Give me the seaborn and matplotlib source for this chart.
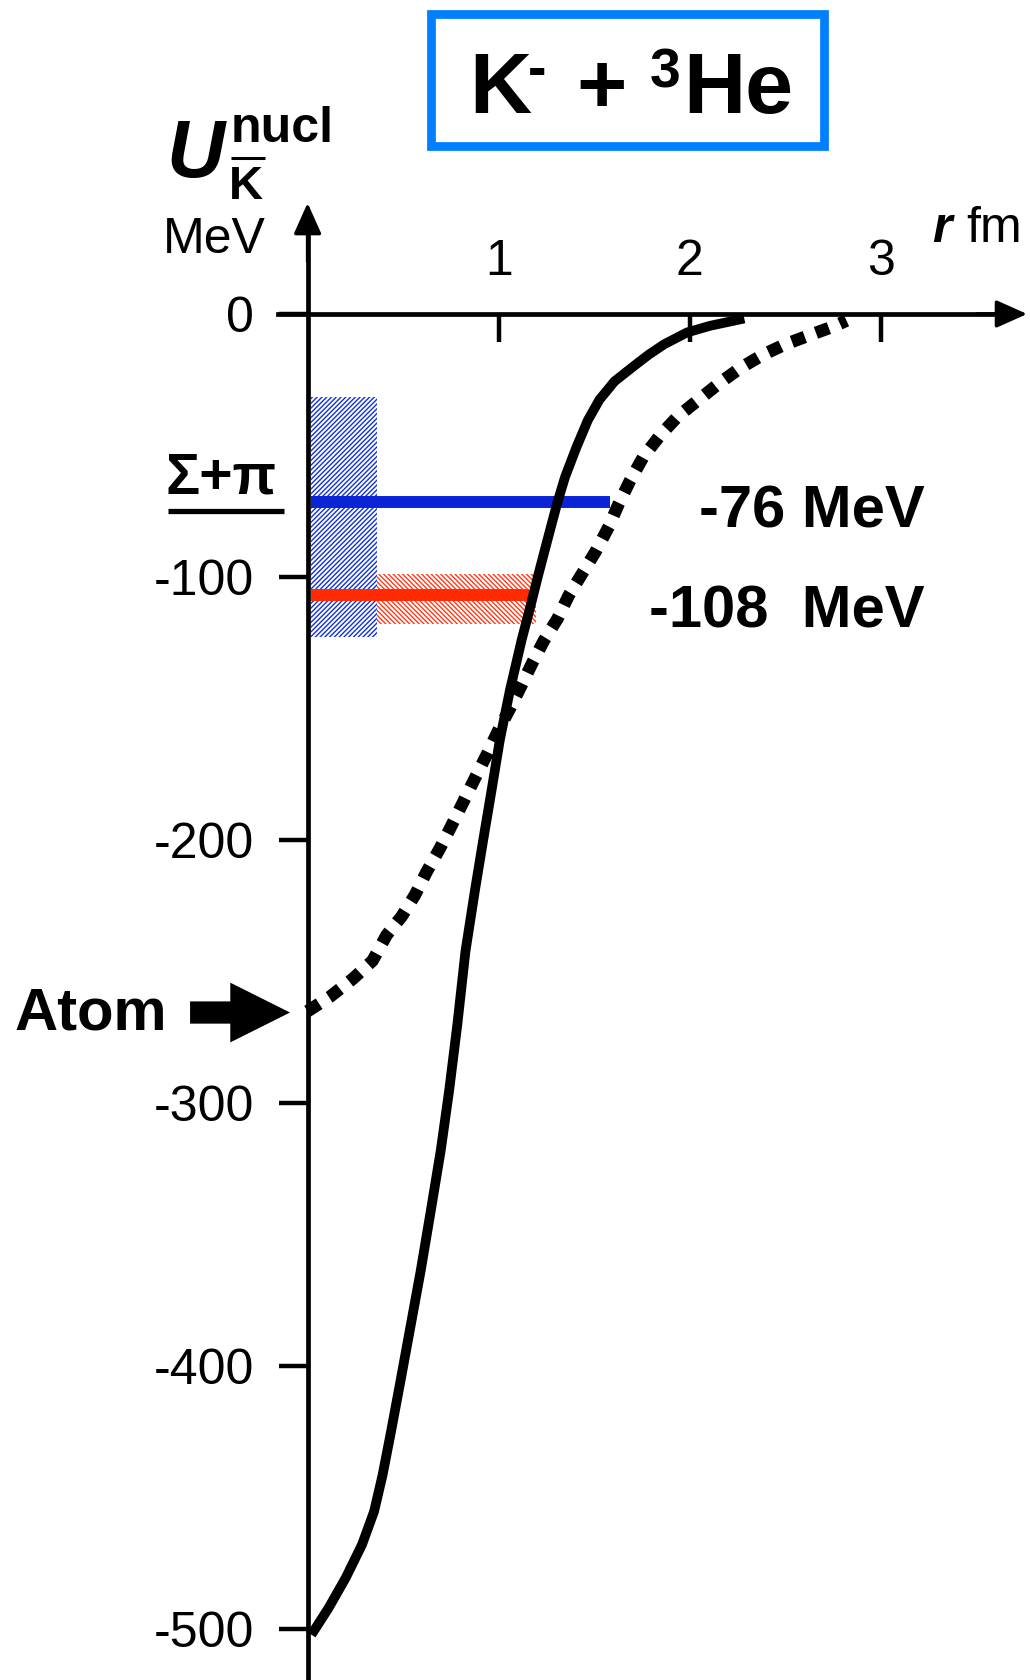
import numpy as np
import pandas as pd
import matplotlib
matplotlib.use("Agg")
import matplotlib.pyplot as plt
import matplotlib.patches as mpatches
from matplotlib.lines import Line2D
import seaborn as sns

# ---------------- data ----------------
# solid potential curve (r in fm, U in MeV)
solid_r = [0.02, 0.11, 0.2, 0.285, 0.348, 0.392, 0.435, 0.488, 0.54, 0.592, 0.645,
           0.697, 0.741, 0.784, 0.826, 0.876, 0.919, 0.963,
           1.006, 1.059, 1.12, 1.167, 1.207, 1.267, 1.307, 1.347, 1.407, 1.467,
           1.527, 1.606, 1.707, 1.786, 1.866, 1.986, 2.105, 2.285]
solid_U = [-502, -491.8, -480.3, -467.7, -455.1, -441.4, -425.4, -404.8, -384.2, -363.6, -340.7,
           -317.8, -295, -269.8, -242.3, -218.9, -199.9, -180.9,
           -161.9, -142.9, -123.9, -110.8, -99.2, -82.6, -71.7, -62, -50.6, -40.3,
           -32.6, -25.6, -19.8, -15.4, -11.5, -7, -4.5, -1.7]

# dotted potential curve
dotted_r = [0.0, 0.117, 0.238, 0.34, 0.414, 0.492, 0.562, 0.623, 0.693, 0.754, 0.815,
            0.876, 0.937, 1.0, 1.059, 1.12, 1.18, 1.236, 1.307, 1.367, 1.437, 1.507,
            1.577, 1.627, 1.687, 1.756, 1.846, 1.936, 2.046, 2.156, 2.265, 2.385,
            2.5, 2.64, 2.76, 2.82]
dotted_U = [-265, -259.5, -252.6, -245.8, -236, -229, -220.8, -212, -203, -194.3, -185.4,
            -176.4, -167.6, -158, -149.9, -141, -132, -124.2, -115.9, -106.9, -98.6, -90.3,
            -80.7, -72.3, -63.4, -54.4, -46, -39, -32.6, -26.2, -20.5, -15.4,
            -11.5, -7.7, -4.5, -2.5]

# bound-state levels
level_names = ["-76 MeV", "-108  MeV"]
level_U = [-71.5, -106.8]
level_r_start = [0.02, 0.02]
level_r_end = [1.585, 1.16]
level_colors = ["#0A24D6", "#FF2A00"]

# width bands (hatched)
band_r_start = [0.02, 0.362]
band_r_end = [0.362, 1.193]
band_U_top = [-31.4, -98.8]
band_U_bottom = [-122.7, -117.8]
band_colors = ["#1232D8", "#FF3A1A"]
band_hatches = ["///////", "\\\\\\\\\\\\\\"]

x_ticks = [1, 2, 3]
x_tick_labels = ["1", "2", "3"]
y_ticks = [0, -100, -200, -300, -400, -500]
y_tick_labels = ["0", "-100", "-200", "-300", "-400", "-500"]

atom_U = -265.5

# ---------------- style ----------------
sns.set_theme(style="white")
plt.rcParams["font.family"] = ["Liberation Sans", "DejaVu Sans"]
plt.rcParams["hatch.linewidth"] = 1.0
plt.rcParams["axes.unicode_minus"] = False
plt.rcParams["text.color"] = "black"
plt.rcParams["xtick.color"] = "black"
plt.rcParams["ytick.color"] = "black"
plt.rcParams["axes.labelcolor"] = "black"

W, H = 1030, 1680
fig = plt.figure(figsize=(W / 100, H / 100), dpi=100)
ax = fig.add_axes([0, 0, 1, 1])
ax.set_facecolor("white")
fig.patch.set_facecolor("white")

ax.set_xlim(-1.6096, 3.7802)
ax.set_ylim(-519.2, 119.35)


def fx(px):
    return px / W


def fy(py):
    return 1 - py / H


# hatched bands
for r0, r1, ut, ub, c, h in zip(band_r_start, band_r_end, band_U_top, band_U_bottom,
                                band_colors, band_hatches):
    ax.bar(r0, ut - ub, width=r1 - r0, bottom=ub, align="edge",
           facecolor="white", edgecolor=c, hatch=h, linewidth=0, zorder=1)

# level lines
for u, r0, r1, c in zip(level_U, level_r_start, level_r_end, level_colors):
    ax.hlines(u, r0, r1, colors=c, linewidth=8.6, zorder=2, capstyle="butt")

# curves
df_solid = pd.DataFrame({"r": solid_r, "U": solid_U})
df_dot = pd.DataFrame({"r": dotted_r, "U": dotted_U})
sns.lineplot(data=df_dot, x="r", y="U", ax=ax, color="black", linewidth=9.0,
             sort=False, linestyle=(0, (1.1, 0.95)), dash_capstyle="butt", zorder=3)
sns.lineplot(data=df_solid, x="r", y="U", ax=ax, color="black", linewidth=7.0,
             sort=False, zorder=4, solid_capstyle="butt", solid_joinstyle="round")

# axes (spines through origin)
for s in ["top", "right"]:
    ax.spines[s].set_visible(False)
ax.spines["left"].set_position(("data", 0))
ax.spines["bottom"].set_position(("data", 0))
ax.spines["left"].set_bounds(-519.2, 38)
ax.spines["bottom"].set_bounds(-0.155, 3.72)
for s in ["left", "bottom"]:
    ax.spines[s].set_linewidth(3.4)
    ax.spines[s].set_color("black")
    ax.spines[s].set_zorder(5)

ax.set_yticks(y_ticks, labels=y_tick_labels)
ax.set_xticks(x_ticks, labels=[""] * len(x_ticks))
ax.tick_params(axis="y", direction="out", length=20.9, width=3.2, pad=17.5,
               labelsize=36, colors="black", left=True)
ax.tick_params(axis="x", direction="out", length=20.0, width=3.2,
               labelbottom=False, bottom=True, colors="black")
ax.set_xlabel("")
ax.set_ylabel("")
ax.grid(False)
for v, lab in zip(x_ticks, x_tick_labels):
    ax.text(v, 14.8, lab, ha="center", va="baseline", fontsize=36, color="black")

# axis arrow heads
ax.annotate("", xy=(3.765, 0), xytext=(3.5, 0),
            arrowprops=dict(arrowstyle="-|>,head_length=1.9,head_width=0.85",
                            mutation_scale=10, lw=2.5, color="black",
                            shrinkA=0, shrinkB=0), zorder=6)
ax.annotate("", xy=(0, 42.2), xytext=(0, 20),
            arrowprops=dict(arrowstyle="-|>,head_length=1.9,head_width=0.85",
                            mutation_scale=10, lw=2.5, color="black",
                            shrinkA=0, shrinkB=0), zorder=6)

# Atom arrow
ax.annotate("", xy=(-0.092, atom_U), xytext=(-0.615, atom_U),
            arrowprops=dict(arrowstyle="simple,head_length=4.3,head_width=4.3,tail_width=1.6",
                            mutation_scale=10, lw=0, color="black",
                            shrinkA=0, shrinkB=0), zorder=6)
fig.text(fx(15), fy(1030), "Atom", fontsize=43, fontweight="bold", va="baseline",
         color="black")

# level labels
fig.text(fx(925), fy(527), level_names[0], fontsize=43, fontweight="bold",
         ha="right", va="baseline", color="black")
fig.text(fx(925), fy(628), level_names[1], fontsize=43, fontweight="bold",
         ha="right", va="baseline", color="black")

# Sigma + pi threshold label
fig.text(fx(166), fy(493), "Σ+π", fontsize=41, fontweight="bold", va="baseline",
         color="black")
fig.add_artist(Line2D([fx(168), fx(284)], [fy(510.6), fy(510.6)], lw=3.8,
                      color="black", solid_capstyle="butt", transform=fig.transFigure))

# title box
fig.add_artist(mpatches.Rectangle((fx(430.5), fy(146)), (824 - 430.5) / W, (146 - 14) / H,
                                  transform=fig.transFigure, fill=False,
                                  edgecolor="#0080FF", linewidth=6.3))
fig.text(fx(469), fy(113), "K", fontsize=62, fontweight="bold", va="baseline", color="black")
fig.text(fx(528), fy(86), "-", fontsize=40, fontweight="bold", va="baseline", color="black")
fig.text(fx(602), fy(113), "+", fontsize=62, fontweight="bold", va="baseline", ha="center",
         color="black")
fig.text(fx(650), fy(87), "3", fontsize=40, fontweight="bold", va="baseline", color="black")
fig.text(fx(683), fy(113), "He", fontsize=62, fontweight="bold", va="baseline", color="black")

# y-axis label
fig.text(fx(166), fy(177), "U", fontsize=58, fontweight="bold", fontstyle="italic",
         va="baseline", color="black")
fig.text(fx(231), fy(142), "nucl", fontsize=36, fontweight="bold", va="baseline",
         color="black")
fig.text(fx(229), fy(199), "K", fontsize=34, fontweight="bold", va="baseline", color="black")
fig.add_artist(Line2D([fx(231), fx(265)], [fy(158), fy(158)], lw=2.2,
                      color="black", solid_capstyle="butt", transform=fig.transFigure))
fig.text(fx(163), fy(253), "MeV", fontsize=36, va="baseline", color="black")

# x-axis label
fig.text(fx(932), fy(242), "r", fontsize=36, fontweight="bold", fontstyle="italic",
         va="baseline", color="black")
fig.text(fx(966), fy(242), "fm", fontsize=36, va="baseline", color="black")

fig.savefig("out.png", dpi=100, facecolor="white")
